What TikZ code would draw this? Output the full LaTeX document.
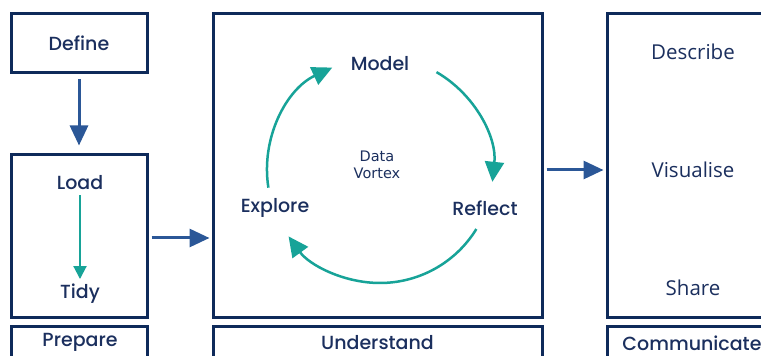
\documentclass[tikz,border=0pt]{standalone}
\usepackage{fontspec}
\usetikzlibrary{arrows.meta}
\newfontfamily\stagefont{Poppins}[UprightFont=* Medium]
\newfontfamily\stepfont{Open Sans}
\newfontfamily\hubfont{DejaVu Sans}
\definecolor{navy}{HTML}{0E2A5A}
\definecolor{inknavy}{HTML}{1B2F5E}
\definecolor{flowblue}{HTML}{2B5797}
\definecolor{cycleteal}{HTML}{17A398}
\tikzset{
  panel/.style={draw=navy, line width=3pt, fill=white, inner sep=0pt},
  stagelabel/.style={text=inknavy, font=\stagefont\fontsize{19}{21}\selectfont, inner sep=1pt},
  steplabel/.style={text=inknavy, font=\stepfont\fontsize{20.5}{22}\selectfont, inner sep=1pt},
  hublabel/.style={text=inknavy, font=\hubfont\fontsize{14.5}{17}\selectfont, align=center, inner sep=0pt},
  flow/.style={draw=flowblue, line width=3pt, -{Triangle[length=20pt, width=18pt]}},
  innerflow/.style={draw=cycleteal, line width=2pt, -{Triangle[length=13pt, width=13pt]}},
  cycle/.style={draw=cycleteal, line width=2.5pt, -{Triangle[length=20pt, width=19pt]}}
}
\begin{document}
\begin{tikzpicture}[x=1pt, y=1pt]
\useasboundingbox (0,0) rectangle (761,356);

% Prepare column
\node[panel, minimum width=136pt, minimum height=59pt] (definebox) at (79,312.5) {};
\node[stagelabel] (define) at (79,312.5) {Define};
\node[panel, minimum width=136pt, minimum height=163pt] (loadbox) at (79,119.5) {};
\node[stagelabel] (load) at (80,173) {Load};
\node[stagelabel] (tidy) at (80,62) {Tidy};
\node[panel, minimum width=136pt, minimum height=60pt] (preparebox) at (79,-1) {};
\node[stagelabel] (prepare) at (80,14) {Prepare};

% Understand column
\node[panel, minimum width=329pt, minimum height=304pt] (understandbox) at (377.5,190) {};
\node[panel, minimum width=329pt, minimum height=60pt] (understandlab) at (377.5,-1) {};
\node[stagelabel] (understand) at (377.5,13) {Understand};
\node[stagelabel] (model) at (380,292) {Model};
\node[stagelabel] (explore) at (275,148) {Explore};
\node[stagelabel] (reflect) at (485,148) {Reflect};
\node[hublabel] (vortex) at (377,191) {Data\\Vortex};

% Communicate column
\node[panel, minimum width=200pt, minimum height=304pt] (communicatebox) at (707,190) {};
\node[panel, minimum width=200pt, minimum height=60pt] (communicatelab) at (707,-1) {};
\node[stagelabel] (communicate) at (692,13) {Communicate};
\node[steplabel] (describe) at (693,304) {Describe};
\node[steplabel] (visualise) at (693,186) {Visualise};
\node[steplabel] (share) at (693,68) {Share};

% Flow between stages
\draw[flow, shorten <=5pt, shorten >=8pt] (definebox.south) -- (loadbox.north);
\draw[innerflow, shorten <=4pt, shorten >=4pt] (load.south) -- (tidy.north);
\draw[flow, shorten <=3pt, shorten >=2pt] (loadbox.east |- 0,118) -- (understandbox.west |- 0,118);
\draw[flow, shorten <=3pt, shorten >=2pt] (understandbox.east |- visualise) -- (communicatebox.west |- visualise);

% Data vortex cycle
\coordinate (hub) at (380,186);
\draw[cycle] ([shift={(189:113pt)}]hub) arc[start angle=189, end angle=115, radius=113pt];
\draw[cycle] ([shift={(60:113pt)}]hub) arc[start angle=60, end angle=-6, radius=113pt];
\draw[cycle] ([shift={(-31.5:113pt)}]hub) arc[start angle=-31.5, end angle=-144, radius=113pt];
\end{tikzpicture}
\end{document}
